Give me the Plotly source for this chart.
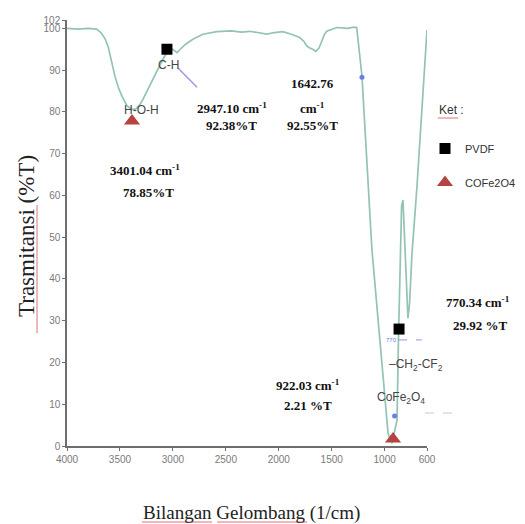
import plotly.graph_objects as go

# ---------------- data ----------------
wavenumber = [4000, 3900, 3800, 3720, 3680, 3640, 3610, 3580, 3547, 3510, 3480, 3434,
              3390, 3350, 3310, 3283, 3240, 3189, 3140, 3094, 3050, 3020, 2990, 2960,
              2930, 2880, 2811, 2717, 2585, 2450, 2350, 2274, 2200, 2113, 2040, 1962,
              1880, 1802, 1760, 1736, 1700, 1679, 1650, 1620, 1594, 1570, 1547, 1500,
              1453, 1350, 1290, 1264, 1252, 1235, 1214, 1120, 968, 945, 931, 915,
              883, 870, 855, 840, 827, 810, 789, 780, 765, 742, 695, 638, 600]
transmittance = [100.0, 99.8, 100.0, 99.8, 99.0, 97.5, 95.5, 92.0, 88.5, 85.5, 83.7, 81.5,
                 80.6, 80.7, 81.8, 83.0, 85.3, 87.8, 90.3, 92.6, 94.5, 95.3, 94.7, 94.2,
                 95.0, 96.2, 97.4, 98.6, 99.2, 99.4, 99.1, 99.3, 99.0, 98.6, 99.0, 99.2,
                 98.6, 97.8, 96.8, 95.8, 95.2, 95.0, 94.5, 95.3, 96.9, 98.5, 99.3, 99.8,
                 100.2, 100.0, 100.3, 100.2, 97.2, 93.5, 88.5, 47.0, 3.1, 1.2, 0.7, 2.5,
                 6.2, 25.0, 46.2, 57.5, 58.9, 48.0, 38.0, 30.6, 34.0, 46.0, 62.0, 86.0, 99.6]

pvdf_wn = [3056, 864]
pvdf_t = [95.0, 28.0]
cofe_wn = [3386, 921]
cofe_t = [77.8, 1.7]

blue_marks_wn = [1214, 906]
blue_marks_t = [88.3, 7.2]

x_ticks = [4000, 3500, 3000, 2500, 2000, 1500, 1000, 600]
y_ticks = [0, 10, 20, 30, 40, 50, 60, 70, 80, 90, 100, 102]

peak_texts = ["3401.04 cm<sup>-1</sup>", "78.85%T",
              "2947.10 cm<sup>-1</sup>", "92.38%T",
              "1642.76", "cm<sup>-1</sup>", "92.55%T",
              "922.03 cm<sup>-1</sup>", "2.21 %T"]
peak_text_wn = [3263, 3235, 2442, 2442, 1677, 1677, 1677, 1724, 1724]
peak_text_t = [66.1, 60.6, 80.9, 76.8, 86.9, 80.9, 76.8, 14.6, 9.8]

# the 770.34 label sits to the right of the plotting area (reference pixels)
side_texts = ["770.34 cm<sup>-1</sup>", "29.92 %T"]
side_text_px = [478, 480]
side_text_py = [302, 325]

group_texts = ["H-O-H", "C-H", "\u2013CH<sub>2</sub>-CF<sub>2</sub>", "CoFe<sub>2</sub>O<sub>4</sub>"]
group_text_wn = [3301, 3037, 704, 846]
group_text_t = [80.4, 91.2, 19.4, 11.5]

# ---------------- figure ----------------
# the page body has an 8px margin, so the figure is drawn 8px in from the corner
W, H = 517, 516
L, R, T, B = 59, 98, 12, 78
OFF = 8


def pxx(x):  # reference-picture pixel -> paper x
    return (x - OFF - L) / (W - L - R)


def pxy(y):  # reference-picture pixel -> paper y
    return (H - B - (y - OFF)) / (H - T - B)


fig = go.Figure()
fig.add_trace(go.Scatter(x=wavenumber, y=transmittance, mode="lines",
                         line=dict(color="#93c3b3", width=1.7), showlegend=False,
                         hoverinfo="skip"))
fig.add_trace(go.Scatter(x=blue_marks_wn, y=blue_marks_t, mode="markers",
                         marker=dict(size=5, color="#6a7ee8"), showlegend=False))
fig.add_trace(go.Scatter(x=pvdf_wn, y=pvdf_t, mode="markers", name="PVDF",
                         marker=dict(symbol="square", size=11, color="black"),
                         cliponaxis=False, legendgroup="a"))
fig.add_trace(go.Scatter(x=cofe_wn, y=cofe_t, mode="markers", name="COFe2O4",
                         marker=dict(symbol="triangle-up", size=14, color="#b5433f"),
                         cliponaxis=False, legendgroup="b"))

tickfont = dict(family="Liberation Sans Narrow, Arial Narrow, Liberation Sans, Arial",
                size=10, color="#7a7a7a")
axis_common = dict(showline=True, linecolor="#6e6e6e", linewidth=1.5, ticks="outside",
                   ticklen=3, tickcolor="#6e6e6e", tickfont=tickfont, showgrid=False,
                   zeroline=False)
fig.update_xaxes(range=[4000, 600], tickvals=x_ticks, **axis_common)
fig.update_yaxes(range=[0, 102], tickvals=y_ticks, **axis_common)

bold_font = dict(family="Liberation Serif, Times New Roman", size=13, color="#111")
annotations = []
for txt, xw, yt in zip(peak_texts, peak_text_wn, peak_text_t):
    annotations.append(dict(x=xw, y=yt, xref="x", yref="y", text="<b>" + txt + "</b>",
                            showarrow=False, font=bold_font))
for txt, xp, yp in zip(side_texts, side_text_px, side_text_py):
    annotations.append(dict(x=pxx(xp), y=pxy(yp), xref="paper", yref="paper",
                            xanchor="center", yanchor="middle",
                            text="<b>" + txt + "</b>", showarrow=False, font=bold_font))
for txt, xw, yt in zip(group_texts, group_text_wn, group_text_t):
    annotations.append(dict(x=xw, y=yt, xref="x", yref="y", text=txt, showarrow=False,
                            font=dict(family="Liberation Sans, Arial", size=12,
                                      color="#444")))
annotations.append(dict(x=931, y=25.4, xref="x", yref="y", text="770", showarrow=False,
                        font=dict(family="Liberation Sans, Arial", size=6, color="#6a7ee8")))
annotations.append(dict(x=pxx(451), y=pxy(110), xref="paper", yref="paper", text="Ket :",
                        xanchor="center", yanchor="middle", showarrow=False,
                        font=dict(family="Liberation Sans, Arial", size=12, color="#333")))
annotations.append(dict(x=pxx(252), y=pxy(513), xref="paper", yref="paper",
                        xanchor="center", yanchor="middle",
                        text="Bilangan Gelombang (1/cm)", showarrow=False,
                        font=dict(family="Liberation Serif, Times New Roman", size=19,
                                  color="#222")))
annotations.append(dict(x=pxx(26), y=pxy(236), xref="paper", yref="paper",
                        xanchor="center", yanchor="middle",
                        text="Trasmitansi (%T)", textangle=-90, showarrow=False,
                        font=dict(family="Liberation Serif, Times New Roman", size=23,
                                  color="#222")))

shapes = [
    dict(type="line", xref="x", yref="y", x0=2952, y0=90.5, x1=2772, y1=85.9,
         line=dict(color="#a095e6", width=1.5)),
    dict(type="line", xref="x", yref="y", x0=874, y0=25.4, x1=647, y1=25.4,
         line=dict(color="#8a9aee", width=1, dash="dash")),
    dict(type="line", xref="paper", yref="paper", x0=pxx(425), y0=pxy(413), x1=pxx(452),
         y1=pxy(413), line=dict(color="#c8c8c8", width=1, dash="dash")),
    # spell-check underlines seen in the reference
    dict(type="line", xref="paper", yref="paper", x0=pxx(142), y0=pxy(522), x1=pxx(212),
         y1=pxy(522), line=dict(color="#e07070", width=1)),
    dict(type="line", xref="paper", yref="paper", x0=pxx(217), y0=pxy(522), x1=pxx(307),
         y1=pxy(522), line=dict(color="#e07070", width=1)),
    dict(type="line", xref="paper", yref="paper", x0=pxx(37), y0=pxy(205), x1=pxx(37),
         y1=pxy(333), line=dict(color="#e07070", width=1)),
    dict(type="line", xref="paper", yref="paper", x0=pxx(438), y0=pxy(118), x1=pxx(458),
         y1=pxy(118), line=dict(color="#e07070", width=1)),
]

fig.update_layout(
    width=W, height=H, margin=dict(l=L, r=R, t=T, b=B, autoexpand=False),
    plot_bgcolor="white", paper_bgcolor="white",
    annotations=annotations, shapes=shapes,
    legend=dict(x=pxx(425), y=pxy(134), xanchor="left", yanchor="top",
                font=dict(family="Liberation Sans, Arial", size=11, color="#333"),
                bgcolor="rgba(0,0,0,0)", tracegroupgap=15, traceorder="grouped",
                itemwidth=30),
)

fig.write_html("out.html")
